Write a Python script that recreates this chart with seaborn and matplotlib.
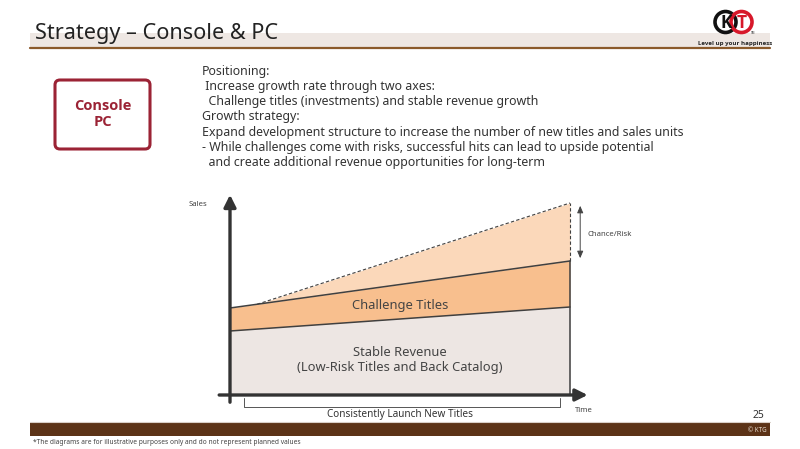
import seaborn as sns
import matplotlib.pyplot as plt
import pandas as pd
from matplotlib.patches import FancyBboxPatch, Rectangle, Circle

# chart values (illustrative index)
time_points = [0.0, 1.0]
stable_revenue = [64, 88]
challenge_titles = [23, 46]          # stacked on top of stable revenue
upside_start = 0.08                  # where the dashed upside line leaves the challenge line
upside_top = 192                     # top of the chance/risk wedge at the right end

bullets = [
    "Positioning:",
    " Increase growth rate through two axes:",
    "  Challenge titles (investments) and stable revenue growth",
    "Growth strategy:",
    "Expand development structure to increase the number of new titles and sales units",
    "- While challenges come with risks, successful hits can lead to upside potential",
    "  and create additional revenue opportunities for long-term",
]

sns.set_theme(style="white")
plt.rcParams['font.family'] = ['Noto Sans', 'DejaVu Sans']
BOLD = ['Open Sans', 'Lato', 'DejaVu Sans']

W, H = 800, 449
fig = plt.figure(figsize=(8, 4.49), dpi=100)

# background axes in pixel coordinates for the slide decoration
bg = fig.add_axes([0, 0, 1, 1])
bg.set_xlim(0, W)
bg.set_ylim(H, 0)
bg.axis("off")

# header band
bg.add_patch(Rectangle((30, 33), 740, 14, color="#EEE7E3", lw=0))
bg.plot([30, 770], [47.5, 47.5], color="#8B5A2B", lw=1.6)
bg.text(35, 33, "Strategy – Console & PC", fontsize=15.6, color="#222222", va="center")

# logo
bg.add_patch(Circle((725.5, 22), 10.5, fill=False, ec="#111111", lw=2.6))
bg.add_patch(Circle((741.5, 22), 10.5, fill=False, ec="#D7182A", lw=2.6))
bg.text(726, 22.5, "K", fontsize=12.5, fontweight="bold", family=BOLD, color="#111111",
        ha="center", va="center")
bg.text(742, 22.5, "T", fontsize=12.5, fontweight="bold", family=BOLD, color="#D7182A",
        ha="center", va="center")
bg.text(753, 33, "TM", fontsize=2.2, color="#333333", ha="center", va="center")
bg.text(735, 43, "Level up your happiness", fontsize=4.4, fontweight="bold", family=BOLD,
        color="#222222", ha="center", va="center")

# console / pc box
bg.add_patch(FancyBboxPatch((55, 80), 95, 69, boxstyle="round,pad=0,rounding_size=5",
                            fill=False, ec="#9B2335", lw=2.2))
bg.text(103, 114, "Console\nPC", fontsize=10.5, fontweight="bold", family=BOLD, color="#9B2335",
        ha="center", va="center", linespacing=1.2)

# bullet text
for i, line in enumerate(bullets):
    bg.text(202, 71 + i * 15.3, line, fontsize=8.95, color="#333333", va="center")

# bottom bar
bg.plot([30, 770], [422.3, 422.3], color="#D9CFC8", lw=0.8)
bg.add_patch(Rectangle((30, 423), 740, 13, color="#5C3317", lw=0))
bg.text(764, 415, "25", fontsize=7.5, color="#333333", ha="right", va="center")
bg.text(767, 430, "© KTG", fontsize=4.5, color="#E8DCD0", ha="right", va="center")
bg.text(33, 443, "*The diagrams are for illustrative purposes only and do not represent planned values",
        fontsize=4.8, color="#444444", va="center")

# chart axes: x 0..1 maps to px 230..570, y 0 at px 395
ax = fig.add_axes([200 / W, (H - 425) / H, 440 / W, 240 / H])
ax.set_xlim((200 - 230) / 340, (640 - 230) / 340)
ax.set_ylim(395 - 425, 395 - 185)
ax.axis("off")

df = pd.DataFrame({"time": time_points, "stable": stable_revenue,
                   "challenge": [s + c for s, c in zip(stable_revenue, challenge_titles)]})
up_y0 = df["challenge"][0] + (df["challenge"][1] - df["challenge"][0]) * upside_start
upside = pd.DataFrame({"time": [upside_start, 1.0], "top": [up_y0, upside_top]})

line_c = "#404040"
ax.fill_between(upside["time"], [up_y0, df["challenge"][1]], upside["top"], color="#FBD8BA", lw=0)
ax.fill_between(df["time"], df["stable"], df["challenge"], color="#F8BF8E", lw=0)
ax.fill_between(df["time"], 0, df["stable"], color="#EDE6E3", lw=0)

sns.lineplot(data=upside, x="time", y="top", ax=ax, color=line_c, lw=0.8, ls=(0, (3, 2)))
sns.lineplot(data=df, x="time", y="challenge", ax=ax, color=line_c, lw=1.1)
sns.lineplot(data=df, x="time", y="stable", ax=ax, color=line_c, lw=1.1)
ax.plot([1, 1], [0, df["challenge"][1]], color=line_c, lw=1.1)
ax.plot([1, 1], [df["challenge"][1], upside_top], color=line_c, lw=0.8, ls=(0, (3, 2)))
ax.plot([0, 0], [df["stable"][0], df["challenge"][0]], color=line_c, lw=1.1)

# axes arrows
ax.annotate("", xy=(0, 203), xytext=(0, -10),
            arrowprops=dict(arrowstyle="-|>,head_length=0.6,head_width=0.3", color="#333333", lw=2.4))
ax.annotate("", xy=(1.06, 0), xytext=(-0.04, 0),
            arrowprops=dict(arrowstyle="-|>,head_length=0.6,head_width=0.3", color="#333333", lw=2.4))

# chance / risk arrow
ax.annotate("", xy=(1.03, upside_top), xytext=(1.03, df["challenge"][1]),
            arrowprops=dict(arrowstyle="<|-|>,head_length=0.35,head_width=0.15", color="#444444", lw=0.7))
ax.text(1.05, 160, "Chance/Risk", fontsize=5.6, color="#444444", va="center")

# bracket under the time axis
ax.plot([0.04, 0.04, 0.97, 0.97], [-3, -12, -12, -3], color="#555555", lw=0.7)

ax.text(0.5, 89, "Challenge Titles", fontsize=9.3, color="#444444", ha="center", va="center")
ax.text(0.5, 35, "Stable Revenue\n(Low-Risk Titles and Back Catalog)", fontsize=9.3,
        color="#444444", ha="center", va="center", linespacing=1.2)
ax.text(-0.094, 190, "Sales", fontsize=5.6, color="#444444", ha="center", va="center")
ax.text(1.04, -15, "Time", fontsize=5.6, color="#444444", ha="center", va="center")
ax.text(0.5, -19, "Consistently Launch New Titles", fontsize=7.2, color="#333333",
        ha="center", va="center")

fig.savefig("out.png", dpi=100)
